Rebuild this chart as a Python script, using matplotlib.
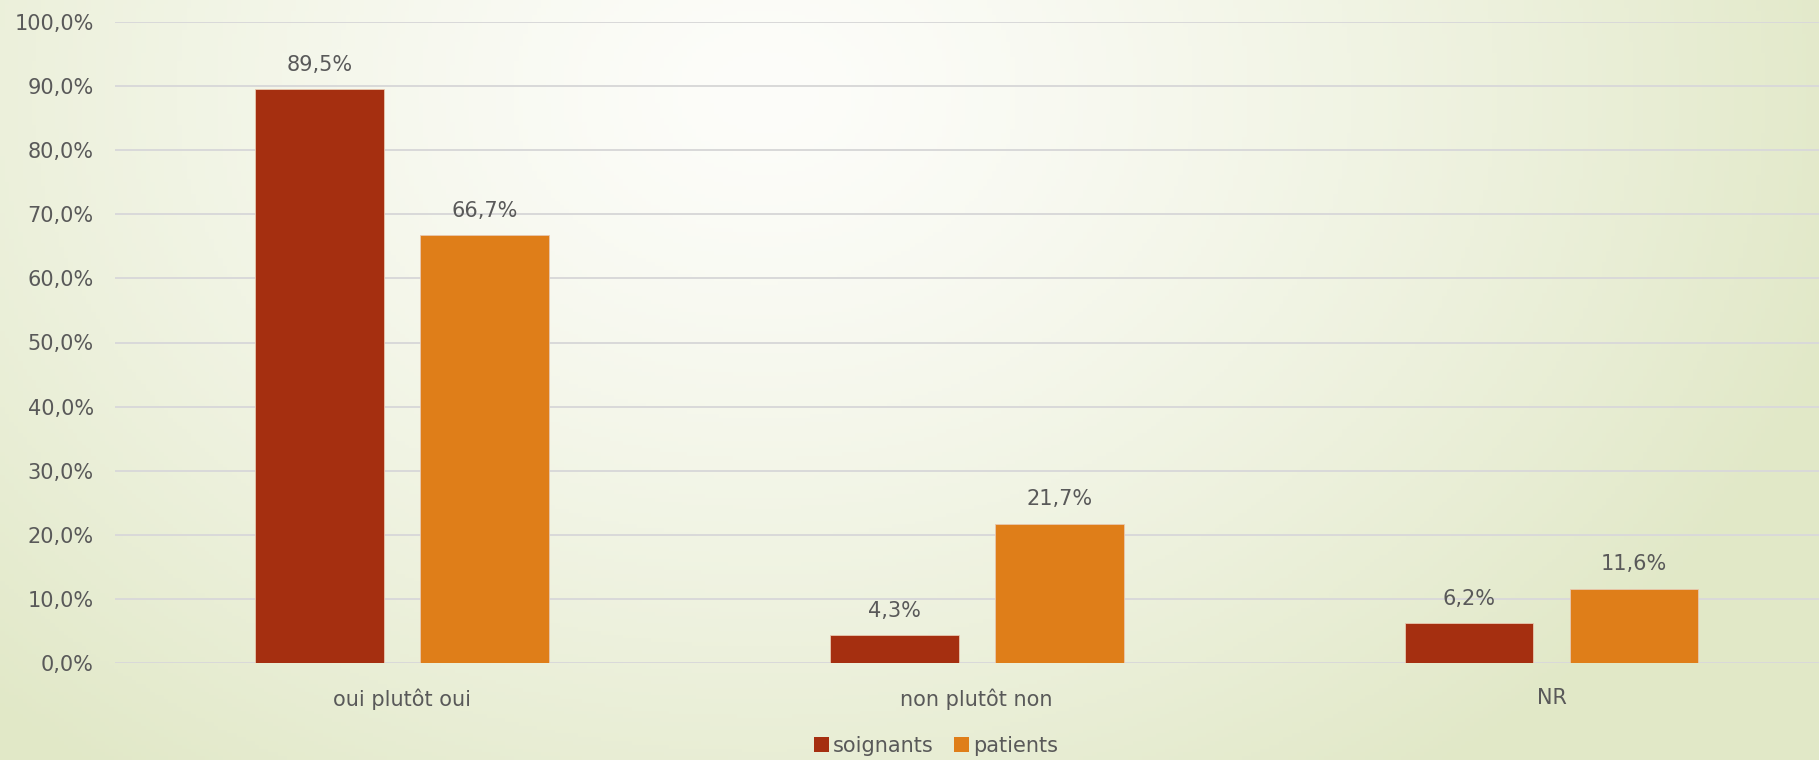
import numpy as np
import matplotlib
matplotlib.use("Agg")
import matplotlib.pyplot as plt
from matplotlib.patches import Patch

categories = ["oui plutôt oui", "non plutôt non", "NR"]
series_names = ["soignants", "patients"]
soignants = [89.5, 4.3, 6.2]
patients = [66.7, 21.7, 11.6]
yticks = [0, 10, 20, 30, 40, 50, 60, 70, 80, 90, 100]

colors = ["#A52F10", "#DF7E19"]
text_color = "#595959"
plt.rcParams["font.family"] = ["DejaVu Sans"]
FS = 15

W, H = 1819, 760
fig = plt.figure(figsize=(W / 100, H / 100), dpi=100)

# background gradient
bg = fig.add_axes([0, 0, 1, 1], zorder=-10)
yy, xx = np.mgrid[0:1:200j, 0:1:400j]
cx, cy = 0.42, 0.12
d = np.sqrt(((xx - cx) * 1.0) ** 2 + ((yy - cy) * 0.55) ** 2)
t = np.clip(d / 0.62, 0, 1) ** 1.3
white = np.array([253, 253, 250]) / 255
green = np.array([225, 232, 199]) / 255
img = white[None, None, :] * (1 - t[..., None]) + green[None, None, :] * t[..., None]
bg.imshow(img, extent=[0, 1, 0, 1], aspect="auto", origin="upper")
bg.axis("off")

left = 114.5 / W
right_px = 1839
bottom = (H - 663) / H
top = (H - 22) / H
ax = fig.add_axes([left, bottom, (right_px - 114.5) / W, top - bottom])
ax.patch.set_alpha(0)

x = np.arange(len(categories))
bw = 0.224
off = 0.1435
for i, (vals, c, name) in enumerate(zip([soignants, patients], colors, series_names)):
    pos = x + (-off if i == 0 else off)
    bars = ax.bar(pos, vals, width=bw, color=c, edgecolor="#E8C8B0", linewidth=0.6, zorder=3, label=name)
    for b, v in zip(bars, vals):
        ax.annotate(f"{v:.1f}%".replace(".", ","), (b.get_x() + b.get_width() / 2, v),
                    xytext=(0, 10.5), textcoords="offset points", ha="center", va="bottom",
                    fontsize=FS, color=text_color)

ax.set_xlim(-0.5, 2.5)
ax.set_ylim(0, 100)
ax.set_yticks(yticks)
ax.set_yticklabels([f"{v:.1f}%".replace(".", ",") for v in yticks], fontsize=FS, color=text_color)
ax.set_xticks(x)
ax.set_xticklabels(categories, fontsize=FS, color=text_color)
ax.tick_params(axis="y", length=0, pad=15)
ax.tick_params(axis="x", length=0, pad=18)
ax.grid(axis="y", color="#D9D9D9", linewidth=1.4, zorder=0)
ax.set_axisbelow(True)
for s in ax.spines.values():
    s.set_visible(False)

handles = [Patch(facecolor=c, label=n) for c, n in zip(colors, series_names)]
fig.legend(handles=handles, loc="center", bbox_to_anchor=(936 / W, (H - 746) / H), ncol=2,
           frameon=False, fontsize=FS, handlelength=0.7, handleheight=0.7,
           handletextpad=0.2, columnspacing=1.0, labelcolor=text_color)

fig.savefig("out.png", dpi=100)
